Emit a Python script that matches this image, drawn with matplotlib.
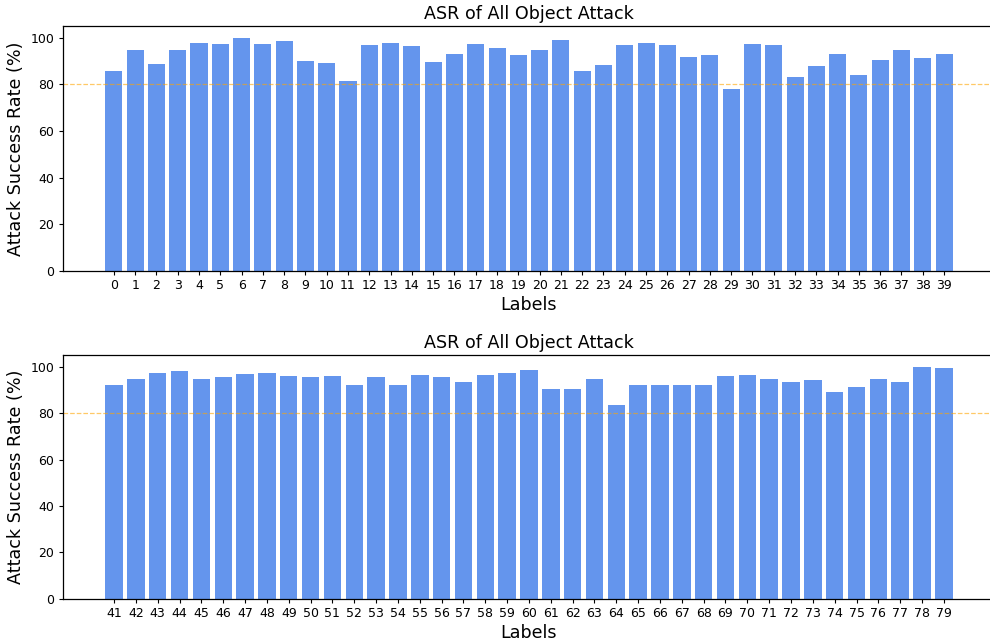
import matplotlib

matplotlib.use("Agg")
import matplotlib.pyplot as plt

# attack success rate per object label
labels_top = [str(i) for i in range(0, 40)]
asr_top = [
    86.0, 94.6, 88.7, 94.6, 98.0, 97.3, 100.0, 97.3, 98.5, 89.9,
    89.2, 81.7, 96.9, 98.0, 96.4, 89.5, 93.3, 97.3, 95.7, 92.6,
    94.6, 98.9, 85.6, 88.3, 96.9, 98.0, 96.9, 91.9, 92.6, 78.2,
    97.3, 96.9, 83.2, 88.0, 93.0, 84.2, 90.7, 95.0, 91.5, 93.0,
]

labels_bottom = [str(i) for i in range(41, 80)]
asr_bottom = [
    92.2, 94.5, 97.5, 98.0, 94.9, 95.7, 96.8, 97.2, 96.1, 95.7,
    96.1, 92.2, 95.7, 92.2, 96.5, 95.7, 93.6, 96.5, 97.2, 98.4,
    90.2, 90.6, 94.5, 83.6, 92.2, 92.2, 92.2, 92.2, 96.1, 96.5,
    94.9, 93.6, 94.1, 89.0, 91.1, 94.9, 93.6, 100.0, 99.3,
]

threshold = 80


def main() -> None:
    fig = plt.figure(figsize=(9.9, 6.41), dpi=100)

    # the original figure is slightly wider than the crop, so the axes run
    # past the right edge
    ax_top = fig.add_axes([0.0636, 0.5777, 0.9414, 0.3813])
    ax_bottom = fig.add_axes([0.0636, 0.066, 0.9414, 0.380])

    for ax, labels, values in (
        (ax_top, labels_top, asr_top),
        (ax_bottom, labels_bottom, asr_bottom),
    ):
        ax.bar(labels, values, color="cornflowerblue")
        ax.axhline(threshold, color="orange", linestyle="--", linewidth=0.9, alpha=0.6)
        ax.set_title("ASR of All Object Attack", fontsize=12.6, pad=5)
        ax.set_xlabel("Labels", fontsize=12.6, labelpad=3)
        ax.set_ylabel("Attack Success Rate (%)", fontsize=12.6)
        ax.tick_params(labelsize=9, length=3.2, pad=3)
        for spine in ax.spines.values():
            spine.set_linewidth(0.9)

    fig.savefig("out.png", dpi=100)
    plt.close(fig)


if __name__ == "__main__":
    main()
